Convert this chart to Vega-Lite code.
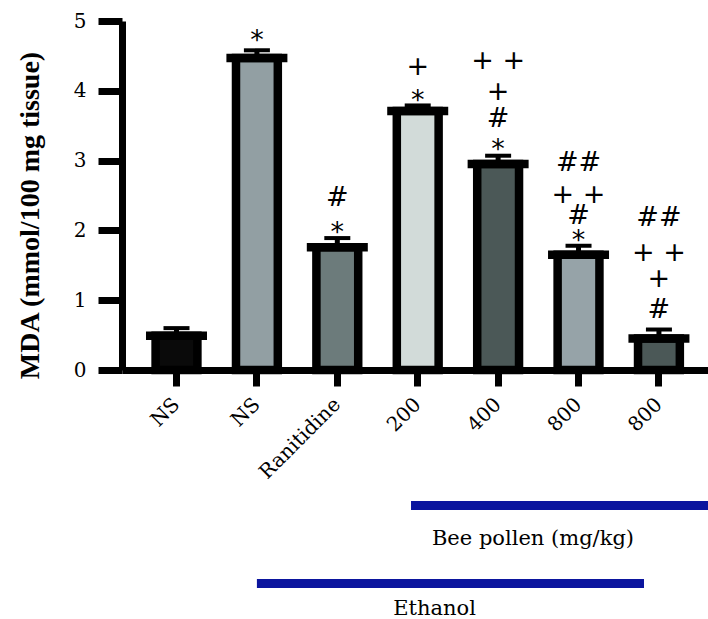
{
  "$schema": "https://vega.github.io/schema/vega-lite/v6.json",
  "width": 586,
  "height": 349,
  "autosize": {"type": "none"},
  "padding": {"left": 122, "top": 21, "right": 0, "bottom": 249},
  "background": "white",
  "config": {
    "view": {"stroke": null},
    "axis": {"grid": false}
  },
  "datasets": {
    "bars": [
      {"group": "1|NS", "mean": 0.49, "upper": 0.60},
      {"group": "2|NS", "mean": 4.47, "upper": 4.58},
      {"group": "3|Ranitidine", "mean": 1.76, "upper": 1.89},
      {"group": "4|200", "mean": 3.71, "upper": 3.79},
      {"group": "5|400", "mean": 2.95, "upper": 3.07},
      {"group": "6|800", "mean": 1.65, "upper": 1.78},
      {"group": "7|800", "mean": 0.45, "upper": 0.58}
    ],
    "notes": [
      {"group": "2|NS", "mark": "*", "y": 4.713},
      {"group": "3|Ranitidine", "mark": "*", "y": 1.963},
      {"group": "3|Ranitidine", "mark": "#", "y": 2.464},
      {"group": "4|200", "mark": "*", "y": 3.854},
      {"group": "4|200", "mark": "+", "y": 4.341},
      {"group": "5|400", "mark": "*", "y": 3.152},
      {"group": "5|400", "mark": "#", "y": 3.596},
      {"group": "5|400", "mark": "+", "y": 3.983},
      {"group": "5|400", "mark": "+ +", "y": 4.427},
      {"group": "6|800", "mark": "*", "y": 1.848},
      {"group": "6|800", "mark": "#", "y": 2.206},
      {"group": "6|800", "mark": "+ +", "y": 2.507},
      {"group": "6|800", "mark": "##", "y": 2.966},
      {"group": "7|800", "mark": "#", "y": 0.860},
      {"group": "7|800", "mark": "+", "y": 1.304},
      {"group": "7|800", "mark": "+ +", "y": 1.676},
      {"group": "7|800", "mark": "##", "y": 2.178}
    ],
    "spans": [
      {"label": "Bee pollen (mg/kg)", "start": 3.917, "end": 7.65, "y": -1.941, "ty": -2.507, "tx": 5.434},
      {"label": "Ethanol", "start": 2.0, "end": 6.815, "y": -3.059, "ty": -3.51, "tx": 4.209}
    ]
  },
  "resolve": {"scale": {"x": "independent"}, "axis": {"x": "independent"}},
  "layer": [
    {
      "layer": [
        {
          "data": {"name": "bars"},
          "mark": {"type": "rule", "color": "black", "strokeWidth": 5},
          "encoding": {
            "x": {
              "field": "group", "type": "nominal", "sort": null,
              "scale": {"paddingInner": 0.48, "paddingOuter": 0.384, "align": 0.544},
              "axis": {
                "title": null,
                "labelExpr": "split(datum.value, '|')[1]",
                "labelAngle": -45,
                "labelAlign": "right",
                "labelBaseline": "middle",
                "labelFont": "DejaVu Serif",
                "labelFontSize": 20,
                "labelColor": "black",
                "labelPadding": 15,
                "domainColor": "black",
                "domainWidth": 7,
                "tickColor": "black",
                "tickWidth": 7,
                "tickSize": 16
              }
            },
            "y": {
              "field": "mean", "type": "quantitative",
              "scale": {"domain": [0, 5], "nice": false, "zero": false},
              "axis": {
                "title": "MDA (mmol/100 mg tissue)",
                "values": [0, 1, 2, 3, 4, 5],
                "format": "d",
                "titleFont": "Liberation Serif",
                "titleFontSize": 28,
                "titleFontWeight": "bold",
                "titleColor": "black",
                "titleX": -92,
                "titleY": 194,
                "titleAngle": -90,
                "titleAlign": "center",
                "titleBaseline": "middle",
                "labelFont": "DejaVu Serif",
                "labelFontSize": 20,
                "labelColor": "black",
                "labelPadding": 12,
                "domainColor": "black",
                "domainWidth": 7,
                "tickColor": "black",
                "tickWidth": 7,
                "tickSize": 24
              }
            },
            "y2": {"field": "upper"}
          }
        },
        {
          "data": {"name": "bars"},
          "mark": {"type": "bar", "stroke": "black", "strokeWidth": 8.5},
          "encoding": {
            "x": {"field": "group", "type": "nominal", "sort": null},
            "y": {"field": "mean", "type": "quantitative", "scale": {"domain": [0, 5], "nice": false, "zero": false}},
            "y2": {"datum": 0},
            "fill": {
              "field": "group", "type": "nominal", "legend": null,
              "scale": {"range": ["#0a0a0a", "#929fa3", "#6c7b7b", "#d2dbd9", "#4b5857", "#96a3a8", "#4b5857"]}
            }
          }
        },
        {
          "data": {"name": "bars"},
          "mark": {"type": "tick", "color": "black", "size": 61, "thickness": 8.5, "opacity": 1},
          "encoding": {
            "x": {"field": "group", "type": "nominal", "sort": null},
            "y": {"field": "mean", "type": "quantitative", "scale": {"domain": [0, 5], "nice": false, "zero": false}}
          }
        },
        {
          "data": {"name": "bars"},
          "mark": {"type": "tick", "color": "black", "size": 26, "thickness": 4, "opacity": 1},
          "encoding": {
            "x": {"field": "group", "type": "nominal", "sort": null},
            "y": {"field": "upper", "type": "quantitative", "scale": {"domain": [0, 5], "nice": false, "zero": false}}
          }
        },
        {
          "data": {"name": "notes"},
          "mark": {"type": "text", "font": "DejaVu Sans", "fontSize": 27, "color": "black", "baseline": "middle", "align": "center"},
          "encoding": {
            "x": {"field": "group", "type": "nominal", "sort": null},
            "y": {"field": "y", "type": "quantitative", "scale": {"domain": [0, 5], "nice": false, "zero": false}},
            "text": {"field": "mark"}
          }
        }
      ]
    },
    {
      "data": {"name": "spans"},
      "layer": [
        {
          "mark": {"type": "rule", "color": "#0b159e", "strokeWidth": 9, "strokeCap": "butt"},
          "encoding": {
            "x": {"field": "start", "type": "quantitative", "scale": {"domain": [0.322, 7.611], "nice": false, "zero": false}, "axis": null},
            "x2": {"field": "end"},
            "y": {"field": "y", "type": "quantitative", "scale": {"domain": [0, 5], "nice": false, "zero": false}}
          }
        },
        {
          "mark": {"type": "text", "font": "DejaVu Serif", "fontSize": 21, "color": "black", "baseline": "alphabetic", "align": "center"},
          "encoding": {
            "x": {"field": "tx", "type": "quantitative", "scale": {"domain": [0.322, 7.611], "nice": false, "zero": false}, "axis": null},
            "y": {"field": "ty", "type": "quantitative", "scale": {"domain": [0, 5], "nice": false, "zero": false}},
            "text": {"field": "label"}
          }
        }
      ]
    }
  ]
}
